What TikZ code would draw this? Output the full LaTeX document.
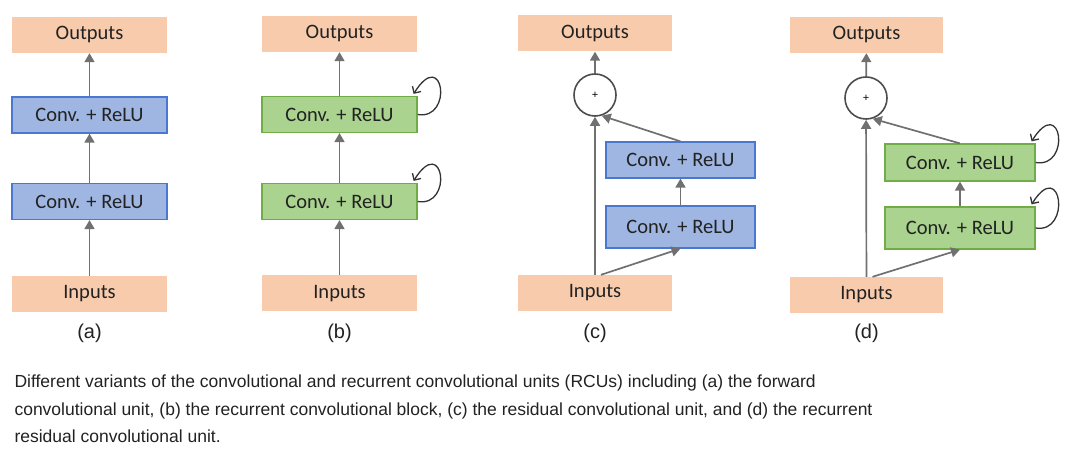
\documentclass[tikz,border=0pt]{standalone}
\usepackage{fontspec}
\setmainfont{Liberation Sans}
\newfontfamily\boxfont{Carlito}
\usetikzlibrary{arrows.meta}
\definecolor{peach}{HTML}{F8CBAD}
\definecolor{bluefill}{HTML}{9FB6E2}
\definecolor{blueline}{HTML}{4A78D0}
\definecolor{greenfill}{HTML}{AAD38F}
\definecolor{greenline}{HTML}{70AD47}
\definecolor{arrgray}{RGB}{112,112,112}
\definecolor{capgray}{RGB}{34,34,34}

\begin{document}
\begin{tikzpicture}[x=1pt,y=-1pt,
    io/.style={fill=peach, minimum width=155pt, minimum height=36pt, inner sep=0pt, text=capgray, font=\boxfont\fontsize{20.5}{20.5}\selectfont},
    convb/.style={fill=bluefill, draw=blueline, line width=1.2pt, minimum width=155pt, minimum height=36pt, inner sep=0pt, text=capgray, font=\boxfont\fontsize{20.5}{20.5}\selectfont},
    convg/.style={convb, fill=greenfill, draw=greenline},
    sum/.style={circle, draw=black!70, line width=1.6pt, minimum size=42pt, inner sep=0pt, font=\fontsize{11}{11}\selectfont},
    arr/.style={draw=arrgray, line width=1.7pt, -{Triangle[length=9pt,width=10pt]}},
    rec/.style={draw=black!80, line width=1.3pt, -{Straight Barb[length=5pt,width=10pt]}},
    sub/.style={font=\fontsize{20}{20}\selectfont, text=capgray},
    captext/.style={anchor=base west, font=\fontsize{17.5}{17.5}\selectfont, text=capgray}]
    \useasboundingbox (0,0) rectangle (1066,454);

    % (a) forward convolutional unit
    \node[io] (aout) at (89.5,35) {Outputs};
    \node[convb] (ac2) at (89.5,115) {Conv. + ReLU};
    \node[convb] (ac1) at (89.5,201.5) {Conv. + ReLU};
    \node[io] (ain) at (89.5,294) {Inputs};
    \draw[arr] (ain) -- (ac1);
    \draw[arr] (ac1) -- (ac2);
    \draw[arr] (ac2) -- (aout);
    \node[sub] (alab) at (89.5,333) {(a)};

    % (b) recurrent convolutional block
    \node[io] (bout) at (339.5,34) {Outputs};
    \node[convg] (bc2) at (339.5,114.5) {Conv. + ReLU};
    \node[convg] (bc1) at (339.5,201.5) {Conv. + ReLU};
    \node[io] (bin) at (339.5,293.5) {Inputs};
    \draw[arr] (bin) -- (bc1);
    \draw[arr] (bc1) -- (bc2);
    \draw[arr] (bc2) -- (bout);
    \foreach \c in {bc1,bc2}
        \draw[rec] (\c.east) .. controls +(36,6) and +(30,-48) .. ([xshift=-4pt,yshift=2pt]\c.north east);
    \node[sub] (blab) at (339.5,333) {(b)};

    % (c) residual convolutional unit
    \node[io, minimum width=154pt] (cout) at (595,33.5) {Outputs};
    \node[sum] (csum) at (595,95) {+};
    \node[convb, minimum width=149pt] (cc2) at (680.5,160) {Conv. + ReLU};
    \node[convb, minimum width=149pt, minimum height=42pt] (cc1) at (680.5,227) {Conv. + ReLU};
    \node[io, minimum width=154pt] (cin) at (595,293) {Inputs};
    \draw[arr] (cin) -- (csum);
    \draw[arr] ([xshift=6pt]cin.north) -- (cc1.south);
    \draw[arr] (cc1) -- (cc2);
    \draw[arr] (cc2.north) -- (csum.-72);
    \draw[arr] (csum) -- (cout);
    \node[sub] (clab) at (595,333) {(c)};

    % (d) recurrent residual convolutional unit
    \node[io, minimum width=153pt] (dout) at (866.5,35) {Outputs};
    \node[sum] (dsum) at (866,98) {+};
    \node[convg, minimum width=150pt, minimum height=37pt] (dc2) at (960,162.5) {Conv. + ReLU};
    \node[convg, minimum width=150pt, minimum height=42pt] (dc1) at (960,228) {Conv. + ReLU};
    \node[io, minimum width=153pt] (din) at (866.5,295) {Inputs};
    \draw[arr] (din) -- (dsum);
    \draw[arr] ([xshift=6pt]din.north) -- (dc1.south);
    \draw[arr] (dc1) -- (dc2);
    \draw[arr] (dc2.north) -- (dsum.-72);
    \draw[arr] (dsum) -- (dout);
    \foreach \c in {dc1,dc2}
        \draw[rec] (\c.east) .. controls +(36,6) and +(30,-48) .. ([xshift=-4pt,yshift=2pt]\c.north east);
    \node[sub] (dlab) at (866.5,333) {(d)};

    % caption
    \node[captext] (cap1) at (11,388) {Different variants of the convolutional and recurrent convolutional units (RCUs) including (a) the forward};
    \node[captext] (cap2) at (11,415) {convolutional unit, (b) the recurrent convolutional block, (c) the residual convolutional unit, and (d) the recurrent};
    \node[captext] (cap3) at (11,442) {residual convolutional unit.};
\end{tikzpicture}
\end{document}
